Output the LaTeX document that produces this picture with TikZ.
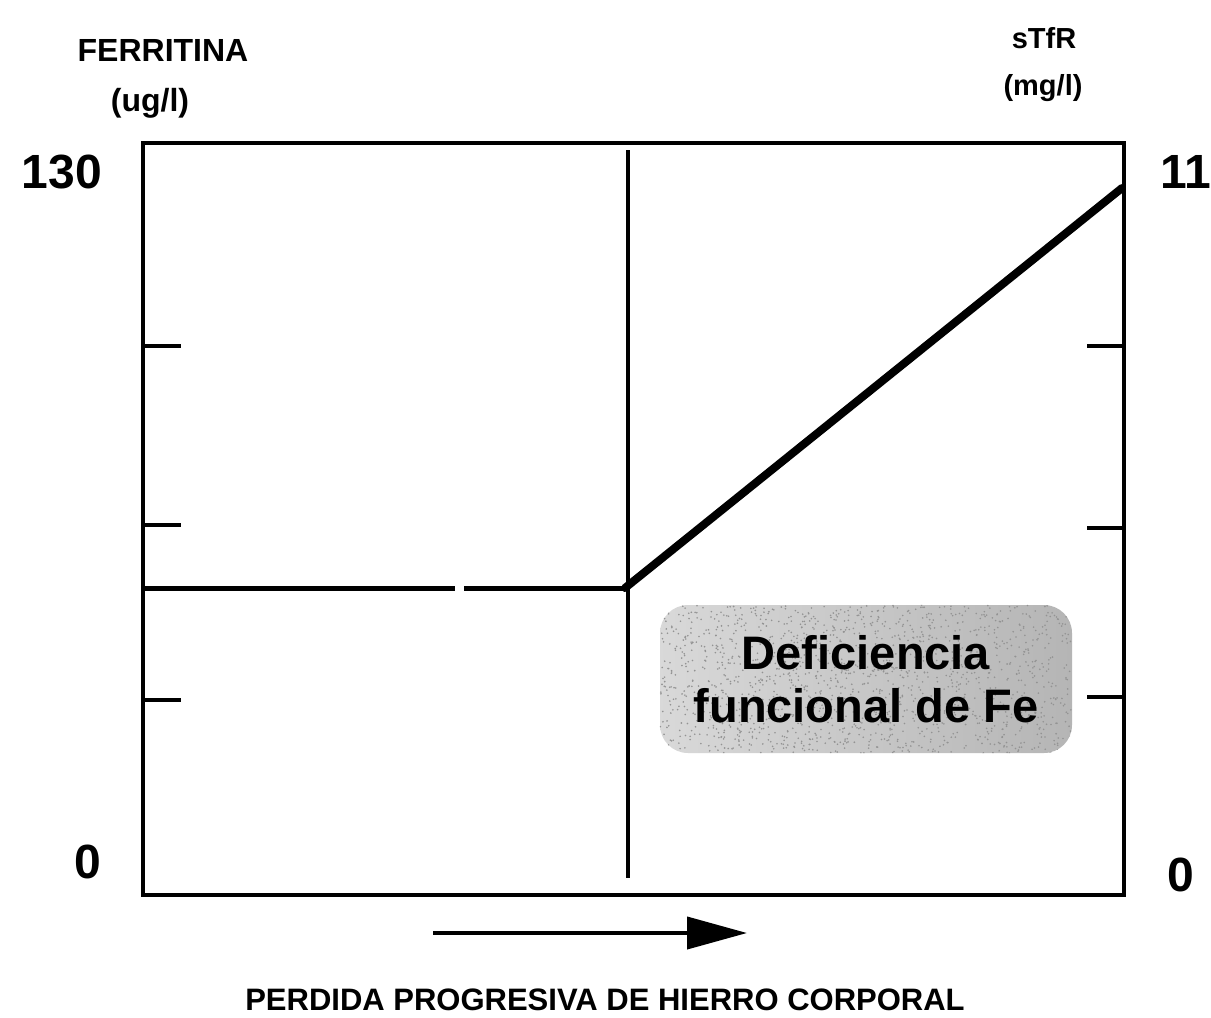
\documentclass[tikz,border=0pt]{standalone}
\usepackage{fontspec}
\setmainfont{Liberation Sans}
\usetikzlibrary{arrows.meta}
\tikzset{
  lbl/.style={font=\bfseries\fontsize{32}{36}\selectfont, inner sep=0pt},
  xlbl/.style={font=\bfseries\fontsize{31}{36}\selectfont, inner sep=0pt},
  big/.style={font=\bfseries\fontsize{48}{52}\selectfont, inner sep=0pt},
  small/.style={font=\bfseries\fontsize{29}{33}\selectfont, inner sep=0pt},
  frame/.style={line width=4pt},
  tick/.style={line width=4pt},
  curve/.style={line width=5pt},
  rise/.style={line width=8pt, line cap=round},
  divider/.style={line width=3.5pt},
  greybox/.style={rounded corners=28pt, left color=gray!30, right color=gray!58, draw=none,
    minimum width=412pt, minimum height=148pt, inner sep=0pt},
  boxtext/.style={font=\bfseries\fontsize{47}{53}\selectfont, align=center, inner sep=0pt}
}
\begin{document}
\begin{tikzpicture}[x=1pt,y=-1pt]
\useasboundingbox (0,0) rectangle (1211,1018);
\fill[white] (0,0) rectangle (1211,1018);
% frame
\draw[frame] (143,143) rectangle (1124,895);
% ticks
\foreach \y in {346,525,700} \draw[tick] (143,\y) -- (181,\y);
\foreach \y in {346,528,697} \draw[tick] (1087,\y) -- (1124,\y);
% divider
\coordinate (dtop) at (628,150);
\coordinate (dbot) at (628,878);
\draw[divider] (dtop) -- (dbot);
% data line
\coordinate (p0) at (145,588);
\coordinate (p1) at (455,588);
\coordinate (p2) at (464,588);
\coordinate (p3) at (625,588);
\coordinate (p4) at (1122,188);
\draw[curve] (p0) -- (p1);
\draw[curve] (p2) -- (p3);
\draw[rise] (p3) -- (p4);
% grey box with speckle
\node[greybox] (box) at (866,679) {};
\begin{scope}
\clip[rounded corners=28pt] (box.south west) rectangle (box.north east);
\pgfmathsetseed{7}
\foreach \i in {1,...,1600} {
  \pgfmathsetmacro{\rx}{660+412*rnd}
  \pgfmathsetmacro{\ry}{605+148*rnd}
  \fill[gray!85] (\rx,\ry) circle (0.9pt);
}
\end{scope}
\node[boxtext] (boxlbl) at (box.center) {Deficiencia\\funcional de Fe};
% arrow
\coordinate (a0) at (433,933);
\coordinate (a1) at (747,933);
\draw[line width=4pt, -{Triangle[length=60pt,width=32pt]}] (a0) -- (a1);
% labels
\node[lbl] (ferr) at (163,50) {FERRITINA};
\node[lbl] (ugl) at (150,103) {(ug/l)};
\node[big] (l130) at (62,172) {130};
\node[big] (l0) at (88,862) {0};
\node[small] (stfr) at (1044,38) {sTfR};
\node[small] (mgl) at (1043,88) {(mg/l)};
\node[big] (r11) at (1186,172) {11};
\node[big] (r0) at (1181,875) {0};
\node[xlbl] (xlab) at (605,1000) {PERDIDA PROGRESIVA DE HIERRO CORPORAL};
\end{tikzpicture}
\end{document}
